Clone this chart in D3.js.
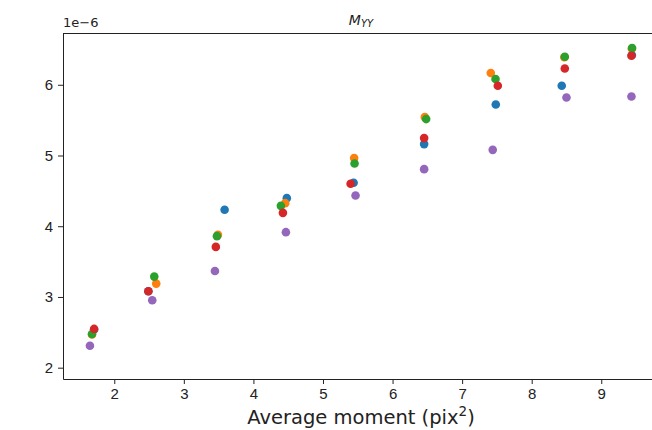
<!DOCTYPE html>
<html>
<head>
<meta charset="utf-8">
<script src="https://cdn.jsdelivr.net/npm/d3@7"></script>
<style>
  body { margin: 0; background: #fff; }
  svg { font-family: "DejaVu Sans", sans-serif; }
</style>
</head>
<body>
<script>
// values (y in units of 1e-6)
const seriesNames = ["s0", "s1", "s2", "s3", "s4"];
const colors = ["#1f77b4", "#ff7f0e", "#2ca02c", "#d62728", "#9467bd"];

const blueX   = [1.71, 2.49, 3.586, 4.48, 5.44, 6.454, 7.484, 8.432, 9.44];
const blueY   = [2.54, 3.08, 4.232, 4.397, 4.614, 5.161, 5.722, 5.986, 6.42];
const orangeX = [1.68, 2.603, 3.49, 4.457, 5.448, 6.464, 7.412, 8.47, 9.44];
const orangeY = [2.47, 3.189, 3.878, 4.326, 4.963, 5.543, 6.166, 6.39, 6.51];
const greenX  = [1.68, 2.575, 3.476, 4.395, 5.454, 6.483, 7.48, 8.476, 9.443];
const greenY  = [2.477, 3.288, 3.86, 4.288, 4.887, 5.515, 6.081, 6.397, 6.52];
const redX    = [1.71, 2.49, 3.46, 4.424, 5.397, 6.454, 7.513, 8.476, 9.434];
const redY    = [2.548, 3.081, 3.708, 4.189, 4.6, 5.246, 5.986, 6.231, 6.411];
const purpleX = [1.65, 2.546, 3.447, 4.467, 5.468, 6.454, 7.44, 8.5, 9.434];
const purpleY = [2.31, 2.954, 3.368, 3.916, 4.434, 4.807, 5.08, 5.821, 5.835];

const xs = [blueX, orangeX, greenX, redX, purpleX];
const ys = [blueY, orangeY, greenY, redY, purpleY];

const xTicks = [2, 3, 4, 5, 6, 7, 8, 9];
const yTicks = [2, 3, 4, 5, 6];

const width = 652, height = 430;
const marginLeft = 63, marginTop = 33, plotRight = 659, plotBottom = 379;

const svg = d3.select("body").append("svg")
    .attr("width", width)
    .attr("height", height)
    .attr("viewBox", [0, 0, width, height]);

const x = d3.scaleLinear().domain([1.263, 9.83]).range([marginLeft, plotRight]);
const y = d3.scaleLinear().domain([1.84, 6.732]).range([plotBottom, marginTop]);

// points
seriesNames.forEach((name, i) => {
    const pts = xs[i].map((v, j) => [v, ys[i][j]]);
    svg.append("g")
        .attr("class", name)
        .selectAll("circle")
        .data(pts)
        .join("circle")
        .attr("cx", d => x(d[0]))
        .attr("cy", d => y(d[1]))
        .attr("r", 4.3)
        .attr("fill", colors[i]);
});

// x axis
svg.append("g")
    .attr("transform", `translate(0,${plotBottom})`)
    .call(d3.axisBottom(x).tickValues(xTicks).tickFormat(d3.format("d")).tickSize(5).tickPadding(4).tickSizeOuter(0))
    .call(g => g.selectAll("text").attr("font-size", 15).attr("fill", "#222"))
    .call(g => g.selectAll("line, path").attr("stroke", "#222").attr("stroke-width", 1));

// y axis
svg.append("g")
    .attr("transform", `translate(${marginLeft},0)`)
    .call(d3.axisLeft(y).tickValues(yTicks).tickFormat(d3.format("d")).tickSize(5).tickPadding(5).tickSizeOuter(0))
    .call(g => g.selectAll("text").attr("font-size", 15).attr("fill", "#222"))
    .call(g => g.selectAll("line, path").attr("stroke", "#222").attr("stroke-width", 1));

// top spine
svg.append("line")
    .attr("x1", marginLeft).attr("x2", plotRight)
    .attr("y1", marginTop + 0.5).attr("y2", marginTop + 0.5)
    .attr("stroke", "#222");

// offset text
svg.append("text")
    .attr("x", marginLeft)
    .attr("y", 27)
    .attr("font-size", 13)
    .attr("fill", "#222")
    .text("1e\u22126");

// title
const title = svg.append("text")
    .attr("x", (marginLeft + plotRight) / 2)
    .attr("y", 25)
    .attr("text-anchor", "middle")
    .attr("font-size", 14)
    .attr("font-style", "italic")
    .attr("fill", "#222");
title.append("tspan").text("M");
title.append("tspan").attr("font-size", 10).attr("dy", 2).text("YY");

// x label
const xl = svg.append("text")
    .attr("x", (marginLeft + plotRight) / 2)
    .attr("y", 424)
    .attr("text-anchor", "middle")
    .attr("font-size", 19.5)
    .attr("fill", "#222");
xl.append("tspan").text("Average moment (pix");
xl.append("tspan").attr("font-size", 13.5).attr("dy", -8).text("2");
xl.append("tspan").attr("dy", 8).text(")");
</script>
</body>
</html>
